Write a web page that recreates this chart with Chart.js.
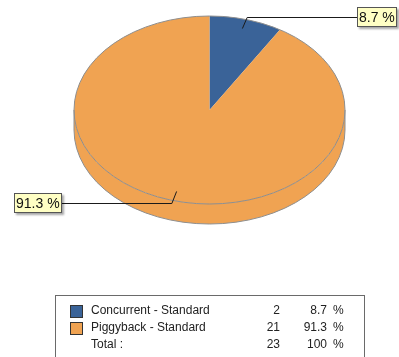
<!DOCTYPE html>
<html>
<head>
<meta charset="utf-8">
<script src="https://cdn.jsdelivr.net/npm/chart.js@4.4.0/dist/chart.umd.min.js"></script>
<style>
html, body { margin: 0; padding: 0; background: #fff; }
#wrap { width: 399px; height: 357px; }
</style>
</head>
<body>
<div id="wrap"><canvas id="pie" width="399" height="357"></canvas></div>
<script>
const categories = ['Concurrent - Standard', 'Piggyback - Standard'];
const counts = [2, 21];
const sliceColors = ['#3A6398', '#F0A352'];
const totalLabel = 'Total :';

const total = counts.reduce((a, b) => a + b, 0);
const pct = v => (v / total * 100).toFixed(1);

// disc look
const TILT = 94 / 135.5;
const DEPTH = 20;
const CENTER_Y = 110;
const RIM = '#8E8E8E';
const FONT = '"Liberation Sans", Arial, sans-serif';

// squash the pie into an ellipse and give it a side wall
const pie3d = {
    id: 'pie3d',
    beforeDatasetsDraw(chart) {
        const ctx = chart.ctx;
        const arcs = chart.getDatasetMeta(0).data;
        const cx = arcs[0].x, cy = arcs[0].y, r = arcs[0].outerRadius;
        ctx.save();
        ctx.translate(cx, CENTER_Y);
        ctx.scale(1, TILT);
        ctx.translate(-cx, -cy);
        const d = DEPTH / TILT;
        arcs.forEach((arc, i) => {
            const a0 = Math.max(arc.startAngle, 0);
            const a1 = Math.min(arc.endAngle, Math.PI);
            if (a1 <= a0) return;
            ctx.beginPath();
            ctx.arc(cx, cy + d, r, a0, a1);
            ctx.arc(cx, cy, r, a1, a0, true);
            ctx.closePath();
            ctx.fillStyle = sliceColors[i];
            ctx.fill();
        });
    },
    afterDatasetsDraw(chart) {
        const ctx = chart.ctx;
        ctx.restore();
        const arc = chart.getDatasetMeta(0).data[0];
        const cx = arc.x, r = arc.outerRadius, ry = r * TILT;
        ctx.save();
        ctx.strokeStyle = RIM;
        ctx.lineWidth = 1;
        ctx.beginPath();
        ctx.ellipse(cx, CENTER_Y, r, ry, 0, 0, Math.PI * 2);
        ctx.stroke();
        ctx.beginPath();
        ctx.ellipse(cx, CENTER_Y + DEPTH, r, ry, 0, 0, Math.PI);
        ctx.moveTo(cx - r, CENTER_Y);
        ctx.lineTo(cx - r, CENTER_Y + DEPTH);
        ctx.moveTo(cx + r, CENTER_Y);
        ctx.lineTo(cx + r, CENTER_Y + DEPTH);
        ctx.stroke();
        ctx.restore();
    }
};

// percent callouts with leader lines
const callouts = {
    id: 'callouts',
    afterDraw(chart) {
        const ctx = chart.ctx;
        const arcs = chart.getDatasetMeta(0).data;
        ctx.save();
        ctx.font = '14px ' + FONT;
        ctx.textBaseline = 'middle';
        arcs.forEach((arc, i) => {
            const cx = arc.x, r = arc.outerRadius, ry = r * TILT;
            const mid = (arc.startAngle + arc.endAngle) / 2;
            const cos = Math.cos(mid), sin = Math.sin(mid);
            const ax = cx + 0.9 * r * cos, ay = CENTER_Y + 0.9 * ry * sin;
            const ex = cx + 1.03 * r * cos, ey = CENTER_Y + 1.03 * ry * sin;
            const text = pct(counts[i]) + ' %';
            const w = Math.round(ctx.measureText(text).width) + 4;
            const h = 20;
            const right = cos >= 0;
            const bx = right ? 357 : 62 - w;
            const by = Math.round(ey) - 10;
            const lx = right ? bx : bx + w;

            ctx.strokeStyle = '#1a1a1a';
            ctx.lineWidth = 1;
            ctx.beginPath();
            ctx.moveTo(ax, ay);
            ctx.lineTo(ex, Math.round(ey) + 0.5);
            ctx.lineTo(lx, Math.round(ey) + 0.5);
            ctx.stroke();

            ctx.save();
            ctx.shadowColor = 'rgba(0,0,0,0.35)';
            ctx.shadowOffsetX = 2;
            ctx.shadowOffsetY = 2;
            ctx.shadowBlur = 2;
            ctx.fillStyle = '#FFFFC4';
            ctx.fillRect(bx, by, w, h);
            ctx.restore();
            ctx.strokeStyle = '#555';
            ctx.strokeRect(bx + 0.5, by + 0.5, w - 1, h - 1);

            ctx.fillStyle = '#111';
            ctx.textAlign = 'left';
            ctx.fillText(text, bx + 2, by + h / 2 + 1);
        });
        ctx.restore();
    }
};

// summary table under the pie
const tableLegend = {
    id: 'tableLegend',
    afterDraw(chart) {
        const ctx = chart.ctx;
        ctx.save();
        ctx.strokeStyle = '#6a6a6a';
        ctx.lineWidth = 1;
        ctx.strokeRect(55.5, 295.5, 309, 80);

        ctx.font = '12px ' + FONT;
        ctx.textBaseline = 'middle';
        ctx.fillStyle = '#222';
        const rows = categories.map((c, i) => [c, counts[i], pct(counts[i]), sliceColors[i]]);
        rows.push([totalLabel, total, '100', null]);
        rows.forEach((row, i) => {
            const y = 311 + i * 17;
            if (row[3]) {
                ctx.fillStyle = row[3];
                ctx.fillRect(70, y - 6, 13, 13);
                ctx.strokeStyle = '#333';
                ctx.strokeRect(70.5, y - 5.5, 12, 12);
            }
            ctx.fillStyle = '#222';
            ctx.textAlign = 'left';
            ctx.fillText(row[0], 91, y);
            ctx.textAlign = 'right';
            ctx.fillText(String(row[1]), 280, y);
            ctx.fillText(row[2], 327, y);
            ctx.textAlign = 'left';
            ctx.fillText('%', 333, y);
        });
        ctx.restore();
    }
};

new Chart(document.getElementById('pie'), {
    type: 'pie',
    data: {
        labels: categories,
        datasets: [{
            data: counts,
            backgroundColor: sliceColors,
            borderWidth: 0,
            clip: false
        }]
    },
    options: {
        responsive: false,
        animation: false,
        events: [],
        layout: { padding: { left: 74, right: 54, top: 0, bottom: 86 } },
        plugins: {
            legend: { display: false },
            tooltip: { enabled: false }
        }
    },
    plugins: [pie3d, callouts, tableLegend]
});
</script>
</body>
</html>
